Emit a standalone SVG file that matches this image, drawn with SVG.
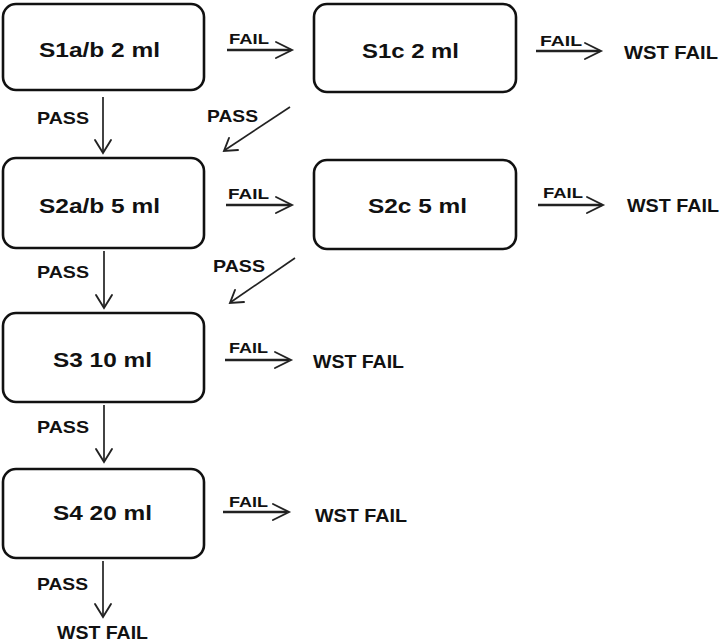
<svg xmlns="http://www.w3.org/2000/svg" width="720" height="644" viewBox="0 0 720 644">
<style>
.box{fill:#fff;stroke:#111;stroke-width:2.6}
.nt{font-family:"Liberation Sans",Arial,sans-serif;font-weight:bold;font-size:21px;fill:#111}
.lb{font-family:"Liberation Sans",Arial,sans-serif;font-weight:bold;font-size:15px;fill:#111}
.ps{font-family:"Liberation Sans",Arial,sans-serif;font-weight:bold;font-size:17px;fill:#111}
.wst{font-family:"Liberation Sans",Arial,sans-serif;font-weight:bold;font-size:19px;fill:#111}
.ln{stroke:#222;stroke-width:1.7;fill:none}
.fl{stroke:#222;stroke-width:2.5;fill:none}
.hd{stroke:#222;stroke-width:1.9;fill:none;stroke-linecap:round;stroke-linejoin:miter}
</style>
<rect width="720" height="644" fill="#fff"/>
<g id="n-s1ab"><rect class="box" x="3" y="4" width="201" height="86" rx="13"/><text class="nt" x="39" y="57" textLength="121" lengthAdjust="spacingAndGlyphs">S1a/b 2 ml</text></g>
<g id="n-s1c"><rect class="box" x="314" y="4" width="202" height="88" rx="13"/><text class="nt" x="362" y="58" textLength="97" lengthAdjust="spacingAndGlyphs">S1c 2 ml</text></g>
<g id="n-s2ab"><rect class="box" x="3" y="158" width="201" height="90" rx="13"/><text class="nt" x="39" y="213" textLength="121" lengthAdjust="spacingAndGlyphs">S2a/b 5 ml</text></g>
<g id="n-s2c"><rect class="box" x="314" y="160" width="202" height="89" rx="13"/><text class="nt" x="368" y="213" textLength="99" lengthAdjust="spacingAndGlyphs">S2c 5 ml</text></g>
<g id="n-s3"><rect class="box" x="3" y="313" width="201" height="89" rx="13"/><text class="nt" x="53" y="367" textLength="99" lengthAdjust="spacingAndGlyphs">S3 10 ml</text></g>
<g id="n-s4"><rect class="box" x="3" y="469" width="201" height="89" rx="13"/><text class="nt" x="53" y="520" textLength="99" lengthAdjust="spacingAndGlyphs">S4 20 ml</text></g>
<g id="connectors">
<line class="fl" x1="227" y1="50" x2="291" y2="50"/><polyline class="hd" points="276,42 292,50 276,58"/>
<text class="lb" x="229" y="44" textLength="40" lengthAdjust="spacingAndGlyphs">FAIL</text>
<line class="fl" x1="536" y1="51" x2="600" y2="51"/><polyline class="hd" points="585,43 601,51 585,59"/>
<text class="lb" x="540" y="46" textLength="42" lengthAdjust="spacingAndGlyphs">FAIL</text>
<text class="wst" x="624" y="59" textLength="94" lengthAdjust="spacingAndGlyphs">WST FAIL</text>
<line class="ln" x1="103" y1="97" x2="103" y2="153"/><polyline class="hd" points="95,140 103,153 111,140"/>
<text class="ps" x="37" y="124" textLength="52" lengthAdjust="spacingAndGlyphs">PASS</text>
<line class="ln" x1="290" y1="107" x2="225" y2="150"/><polyline class="hd" points="229,138 224,151 238,150"/>
<text class="ps" x="207" y="122" textLength="51" lengthAdjust="spacingAndGlyphs">PASS</text>
<line class="fl" x1="226" y1="205" x2="290" y2="205"/><polyline class="hd" points="276,197 292,205 276,213"/>
<text class="lb" x="228" y="199" textLength="41" lengthAdjust="spacingAndGlyphs">FAIL</text>
<line class="fl" x1="538" y1="205" x2="602" y2="205"/><polyline class="hd" points="587,197 603,205 587,213"/>
<text class="lb" x="543" y="198" textLength="40" lengthAdjust="spacingAndGlyphs">FAIL</text>
<text class="wst" x="627" y="212" textLength="92" lengthAdjust="spacingAndGlyphs">WST FAIL</text>
<line class="ln" x1="104" y1="251" x2="104" y2="308"/><polyline class="hd" points="96,295 104,308 112,295"/>
<text class="ps" x="37" y="278" textLength="52" lengthAdjust="spacingAndGlyphs">PASS</text>
<line class="ln" x1="295" y1="258" x2="231" y2="302"/><polyline class="hd" points="235,290 230,303 244,302"/>
<text class="ps" x="213" y="272" textLength="52" lengthAdjust="spacingAndGlyphs">PASS</text>
<line class="fl" x1="225" y1="360" x2="289" y2="360"/><polyline class="hd" points="275,352 291,360 275,368"/>
<text class="lb" x="229" y="353" textLength="39" lengthAdjust="spacingAndGlyphs">FAIL</text>
<text class="wst" x="313" y="368" textLength="91" lengthAdjust="spacingAndGlyphs">WST FAIL</text>
<line class="ln" x1="104" y1="405" x2="104" y2="462"/><polyline class="hd" points="96,449 104,462 112,449"/>
<text class="ps" x="37" y="433" textLength="52" lengthAdjust="spacingAndGlyphs">PASS</text>
<line class="fl" x1="223" y1="512" x2="287" y2="512"/><polyline class="hd" points="273,504 289,512 273,520"/>
<text class="lb" x="229" y="507" textLength="39" lengthAdjust="spacingAndGlyphs">FAIL</text>
<text class="wst" x="315" y="522" textLength="92" lengthAdjust="spacingAndGlyphs">WST FAIL</text>
<line class="ln" x1="103" y1="561" x2="103" y2="617"/><polyline class="hd" points="95,604 103,617 111,604"/>
<text class="ps" x="37" y="590" textLength="51" lengthAdjust="spacingAndGlyphs">PASS</text>
<text class="wst" x="57" y="639" textLength="91" lengthAdjust="spacingAndGlyphs">WST FAIL</text>
</g>
</svg>
